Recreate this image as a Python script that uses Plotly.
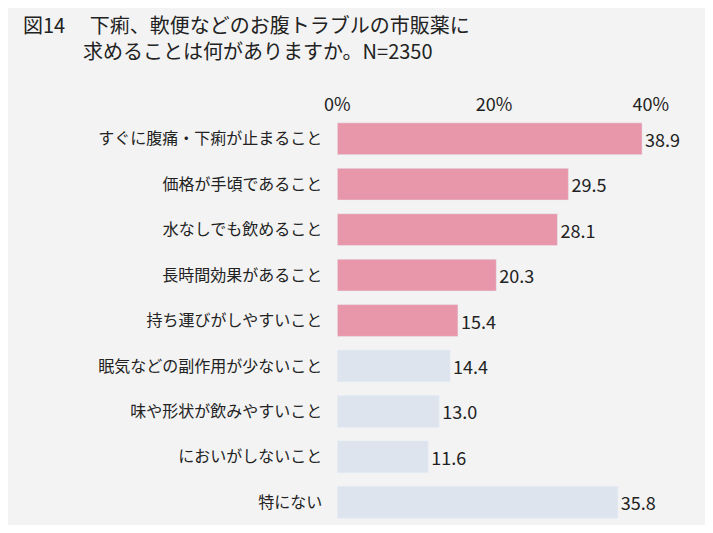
import plotly.graph_objects as go

categories = ["すぐに腹痛・下痢が止まること","価格が手頃であること","水なしでも飲めること","長時間効果があること",
              "持ち運びがしやすいこと","眠気などの副作用が少ないこと","味や形状が飲みやすいこと","においがしないこと","特にない"]
values = [38.9, 29.5, 28.1, 20.3, 15.4, 14.4, 13.0, 11.6, 35.8]
colors = ["#e897aa"]*5 + ["#dde4ee"]*4
labels = [f"{v:.1f}" for v in values]

W, H = 697, 517
font = "Noto Sans CJK JP"
fig = go.Figure(go.Bar(
    x=values, y=categories, orientation="h", marker_color=colors, width=0.7,
    text=labels, textposition="outside", cliponaxis=False,
    textfont=dict(size=18, color="#222", family=font)))
fig.update_layout(
    width=W, height=H, margin=dict(l=0, r=0, t=0, b=0),
    paper_bgcolor="#f3f3f3", plot_bgcolor="#f3f3f3", showlegend=False,
    font=dict(family=font, color="#222"),
    xaxis=dict(domain=[331/W, 659/W], range=[0, 40], side="top", tickvals=[0, 20, 40],
               ticktext=["0%", "20%", "40%"], showgrid=False, zeroline=False,
               tickfont=dict(size=18), ticks=""),
    yaxis=dict(domain=[0.0, 1-108/H], autorange="reversed", tickfont=dict(size=16),
               ticklabelstandoff=14, showgrid=False),
    annotations=[dict(text="図14　 下痢、軟便などのお腹トラブルの市販薬に<br>　　　求めることは何がありますか。N=2350",
                      x=0.0, y=1.0, xref="paper", yref="paper", xanchor="left", yanchor="top",
                      showarrow=False, align="left", font=dict(size=20, color="#222"))])
fig.write_html("out.html")
